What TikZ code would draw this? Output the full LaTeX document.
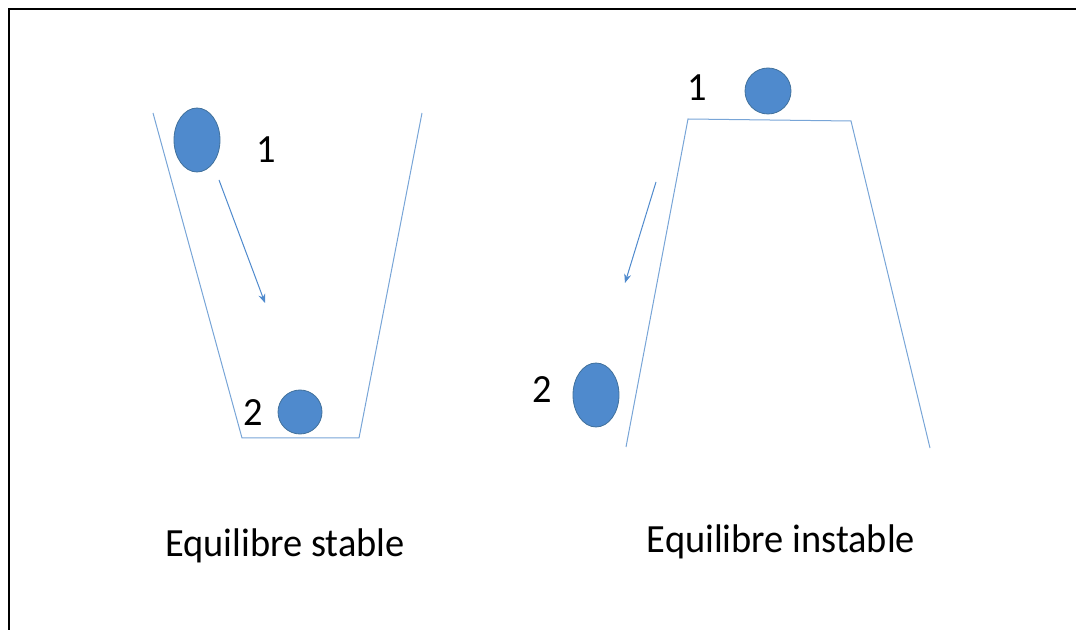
\documentclass[tikz,border=0pt]{standalone}
\usepackage{fontspec}
\setmainfont{Carlito}
\usepackage{xcolor}
\usetikzlibrary{positioning,arrows.meta,shapes.geometric}
\definecolor{ballblue}{RGB}{79,138,205}
\definecolor{balledge}{RGB}{65,113,156}
\definecolor{wallblue}{RGB}{120,165,215}

\begin{document}
\begin{tikzpicture}[
    x=0.5pt, y=-0.5pt,
    ball/.style={ellipse, fill=ballblue, draw=balledge, line width=0.4pt,
                 inner sep=0pt},
    wall/.style={draw=wallblue, line width=0.5pt},
    arr/.style={-{Stealth[length=4.5pt,width=3.5pt]}, draw=ballblue, line width=0.5pt},
    lbl/.style={font=\fontsize{20}{24}\selectfont, xscale=0.96, transform shape},
    >=Stealth
]
  \useasboundingbox (0,0) rectangle (1076,630);
  % frame
  \draw[line width=1.2pt] (9,630) -- (9,9) -- (1076,9);

  % stable
  \coordinate (sl) at (153,113);
  \coordinate (sbl) at (242,438);
  \coordinate (sbr) at (359,438);
  \coordinate (sr) at (422,113);
  \draw[wall] (sl) -- (sbl) -- (sbr) -- (sr);
  \node[ball, minimum width=23pt, minimum height=32pt] (s1) at (197,140) {};
  \node[ball, minimum width=22pt, minimum height=22pt] (s2) at (300,412) {};
  \node[lbl] (s1lbl) at (266,150) {1};
  \node[lbl] (s2lbl) at (253,413) {2};
  \coordinate (sa1) at (219,180);
  \coordinate (sa2) at (265,303);
  \draw[arr] (sa1) -- (sa2);
  \node[lbl] (stable) at (285,546) {Equilibre stable};

  % instable
  \coordinate (il) at (626,447);
  \coordinate (itl) at (688,119);
  \coordinate (itr) at (851,121);
  \coordinate (ir) at (930,448);
  \draw[wall] (il) -- (itl) -- (itr) -- (ir);
  \node[ball, minimum width=23pt, minimum height=23pt] (i1) at (768,91) {};
  \node[ball, minimum width=23pt, minimum height=32pt] (i2) at (596,395) {};
  \node[lbl] (i1lbl) at (697,88) {1};
  \node[lbl] (i2lbl) at (542,390) {2};
  \coordinate (ia1) at (656,182);
  \coordinate (ia2) at (625,283);
  \draw[arr] (ia1) -- (ia2);
  \node[lbl] (instable) at (781,542) {Equilibre instable};
\end{tikzpicture}
\end{document}
